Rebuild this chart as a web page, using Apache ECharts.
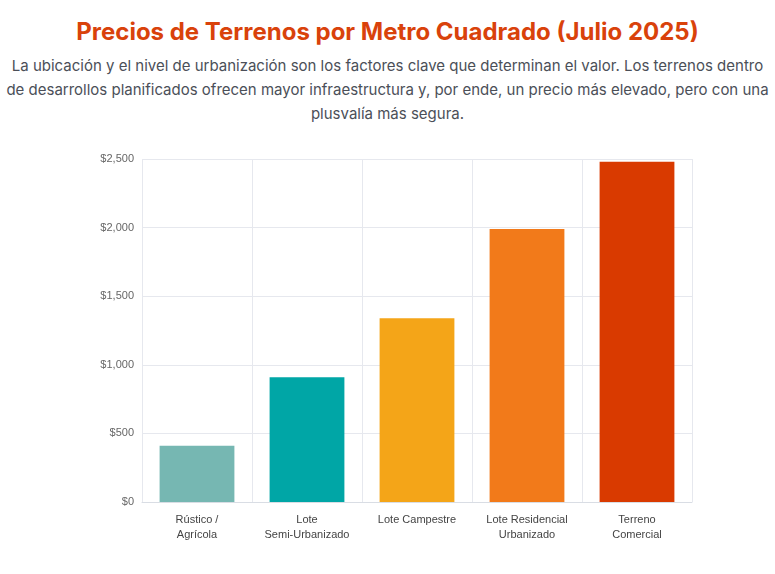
<!DOCTYPE html>
<html>
<head>
<meta charset="utf-8">
<script src="https://cdn.jsdelivr.net/npm/echarts@6/dist/echarts.min.js"></script>
<style>
  body { margin: 0; background: #fff; font-family: Inter, "Noto Sans", sans-serif; }
  h1 { margin: 17px 0 0; text-align: center; color: #d9420b; font-size: 24px; font-weight: 700; }
  p { margin: 8px 6px 0; text-align: center; color: #4b4f58; font-size: 15px; line-height: 24px; }
  #chart { width: 775px; height: 440px; }
</style>
</head>
<body>
<h1>Precios de Terrenos por Metro Cuadrado (Julio 2025)</h1>
<p>La ubicación y el nivel de urbanización son los factores clave que determinan el valor. Los terrenos dentro de desarrollos planificados ofrecen mayor infraestructura y, por ende, un precio más elevado, pero con una plusvalía más segura.</p>
<div id="chart"></div>
<script>
const categories = ['Rústico /\nAgrícola', 'Lote\nSemi-Urbanizado', 'Lote Campestre', 'Lote Residencial\nUrbanizado', 'Terreno\nComercial'];
const prices = [410, 910, 1340, 1990, 2480];
const barColors = ['#76b7b2', '#00a6a6', '#f4a518', '#f27a1a', '#d93a00'];

const chart = echarts.init(document.getElementById('chart'));
chart.setOption({
  animation: false,
  grid: { left: 142, right: 83, top: 33, bottom: 64 },
  xAxis: {
    type: 'category',
    data: categories,
    axisTick: { show: false },
    axisLine: { lineStyle: { color: '#d9dde4' } },
    axisLabel: { color: '#444', fontSize: 11, lineHeight: 15, margin: 10, interval: 0 },
    splitLine: { show: true, interval: 0, lineStyle: { color: '#e6e8ee' } }
  },
  yAxis: {
    type: 'value',
    min: 0,
    max: 2500,
    interval: 500,
    axisLabel: { color: '#666', fontSize: 11, formatter: v => '$' + v.toLocaleString('en-US') },
    splitLine: { lineStyle: { color: '#e6e8ee' } }
  },
  series: [{
    type: 'bar',
    data: prices.map((v, i) => ({ value: v, itemStyle: { color: barColors[i] } })),
    barWidth: '68%'
  }]
});
</script>
</body>
</html>
